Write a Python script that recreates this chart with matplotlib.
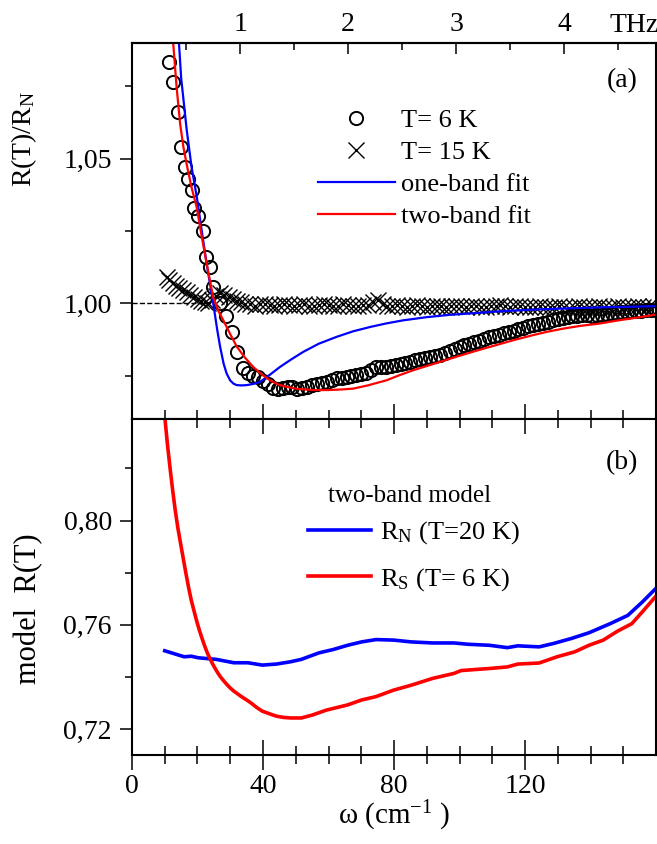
import numpy as np
import matplotlib
matplotlib.use('Agg')
import matplotlib.pyplot as plt
from matplotlib.lines import Line2D

plt.rcParams['font.family'] = 'Liberation Serif'
plt.rcParams['mathtext.fontset'] = 'custom'
plt.rcParams['mathtext.rm'] = 'Liberation Serif'
plt.rcParams['mathtext.it'] = 'Liberation Serif:italic'

# ---- panel (a): measured R(T)/R_N and fits ----
w_6K = [11.4, 12.6, 14.1, 15.0, 16.2, 17.2, 18.2, 19.0, 20.2, 21.8, 22.6, 23.8,
        24.8, 26.9, 28.7, 30.4, 32.0, 34.0, 35.5, 37.0, 38.5, 40.0, 41.5, 43.0,
        44.5, 46.0, 47.5, 49.0, 50.5, 52.0, 53.5, 55.0, 56.5, 58.0, 59.5, 61.0,
        62.5, 64.0, 65.5, 67.0, 68.5, 70.0, 71.5, 73.0, 74.5, 76.0, 77.5, 79.0,
        80.5, 82.0, 83.5, 85.0, 86.5, 88.0, 89.5, 91.0, 92.5, 94.0, 95.5, 97.0,
        98.5, 100.0, 101.5, 103.0, 104.5, 106.0, 107.5, 109.0, 110.5, 112.0,
        113.5, 115.0, 116.5, 118.0, 119.5, 121.0, 122.5, 124.0, 125.5, 127.0,
        128.5, 130.0, 131.5, 133.0, 134.5, 136.0, 137.5, 139.0, 140.5, 142.0,
        143.5, 145.0, 146.5, 148.0, 149.5, 151.0, 152.5, 154.0, 155.5, 157.0,
        158.5, 160.0]
r_6K = [1.0834, 1.0764, 1.0660, 1.0540, 1.0470, 1.0430, 1.0390, 1.0330, 1.0300,
        1.0250, 1.0160, 1.0125, 1.0056, 1.0000, 0.9955, 0.9900, 0.9832, 0.9775,
        0.9758, 0.9750, 0.9744, 0.9730, 0.9722, 0.9708, 0.9702, 0.9708, 0.9712,
        0.9709, 0.9705, 0.9707, 0.9712, 0.9716, 0.9720, 0.9726, 0.9729, 0.9734,
        0.9740, 0.9742, 0.9746, 0.9749, 0.9752, 0.9754, 0.9760, 0.9770, 0.9778,
        0.9780, 0.9781, 0.9783, 0.9786, 0.9790, 0.9792, 0.9797, 0.9805, 0.9808,
        0.9811, 0.9814, 0.9818, 0.9822, 0.9829, 0.9835, 0.9841, 0.9848, 0.9855,
        0.9860, 0.9866, 0.9870, 0.9876, 0.9882, 0.9887, 0.9892, 0.9896, 0.9900,
        0.9904, 0.9910, 0.9915, 0.9920, 0.9924, 0.9928, 0.9931, 0.9936, 0.9941,
        0.9945, 0.9950, 0.9953, 0.9955, 0.9957, 0.9958, 0.9959, 0.9957, 0.9958,
        0.9960, 0.9963, 0.9966, 0.9968, 0.9969, 0.9970, 0.9972, 0.9973, 0.9974,
        0.9975, 0.9976, 0.9977]

w_15K = [10.6, 11.4, 12.4, 13.5, 14.5, 15.5, 16.7, 17.8, 19.0, 20.2, 21.2, 22.2,
         23.3, 24.3, 25.5, 26.9, 28.2, 29.5, 30.8, 32.0, 33.3, 34.5, 36.0, 37.5,
         39.0, 40.5, 42.0, 43.5, 45.0, 46.5, 48.0, 49.5, 51.0, 52.5, 54.0, 55.5,
         57.0, 58.5, 60.0, 61.5, 63.0, 64.5, 66.0, 67.5, 69.0, 70.5, 72.0, 73.5,
         75.0, 76.5, 78.0, 79.5, 81.0, 82.5, 84.0, 85.5, 87.0, 88.5, 90.0, 91.5,
         93.0, 94.5, 96.0, 97.5, 99.0, 100.5, 102.0, 103.5, 105.0, 106.5, 108.0,
         109.5, 111.0, 112.5, 114.0, 115.5, 117.0, 118.5, 120.0, 121.5, 123.0,
         124.5, 126.0, 127.5, 129.0, 130.5, 132.0, 133.5, 135.0, 136.5, 138.0,
         139.5, 141.0, 142.5, 144.0, 145.5, 147.0, 148.5, 150.0, 151.5, 153.0,
         154.5, 156.0, 157.5, 159.0]
r_15K = [1.0091, 1.0082, 1.0070, 1.0060, 1.0052, 1.0045, 1.0039, 1.0030, 1.0022,
         1.0015, 1.0008, 1.0004, 1.0000, 1.0010, 1.0025, 1.0034, 1.0028, 1.0022,
         1.0015, 1.0008, 1.0004, 0.9998, 0.9996, 0.9992, 0.9996, 0.9999, 0.9994,
         0.9990, 0.9993, 0.9997, 0.9995, 0.9991, 0.9994, 0.9996, 0.9992, 0.9990,
         0.9994, 0.9997, 0.9993, 0.9990, 0.9992, 0.9996, 0.9994, 0.9991, 0.9989,
         0.9993, 0.9995, 1.0004, 1.0012, 0.9998, 0.9992, 0.9990, 0.9993, 0.9991,
         0.9988, 0.9990, 0.9993, 0.9991, 0.9988, 0.9990, 0.9992, 0.9989, 0.9987,
         0.9990, 0.9992, 0.9989, 0.9987, 0.9989, 0.9991, 0.9988, 0.9986, 0.9989,
         0.9991, 0.9993, 0.9989, 0.9987, 0.9989, 0.9991, 0.9988, 0.9986, 0.9988,
         0.9990, 0.9988, 0.9986, 0.9988, 0.9990, 0.9987, 0.9985, 0.9988, 0.9990,
         0.9987, 0.9986, 0.9988, 0.9990, 0.9987, 0.9985, 0.9988, 0.9990, 0.9988,
         0.9986, 0.9988, 0.9990, 0.9988, 0.9987, 0.9989]

w_one = [13.8, 15.0, 16.7, 18.2, 19.8, 21.3, 22.8, 24.8, 26.0, 26.9, 28.0, 28.9,
         30.0, 31.0, 32.0, 33.5, 35.0, 37.0, 39.1, 42.0, 45.2, 48.5, 52.3, 57.0,
         62.5, 67.5, 72.7, 77.5, 82.8, 90.0, 97.0, 102.2, 112.0, 122.5, 132.0,
         142.9, 152.0, 160.0]
r_one = [1.1000, 1.0780, 1.0600, 1.0470, 1.0367, 1.0250, 1.0137, 1.0000, 0.9910,
         0.9850, 0.9790, 0.9757, 0.9733, 0.9722, 0.9717, 0.9716, 0.9717, 0.9721,
         0.9728, 0.9752, 0.9780, 0.9805, 0.9832, 0.9860, 0.9884, 0.9903, 0.9918,
         0.9930, 0.9941, 0.9952, 0.9960, 0.9964, 0.9972, 0.9978, 0.9982, 0.9986,
         0.9988, 0.9990]

w_two = [12.3, 12.6, 13.6, 14.7, 15.7, 16.7, 18.2, 19.8, 21.3, 22.8, 24.8, 26.3,
         27.9, 30.0, 32.0, 34.5, 37.0, 39.5, 42.1, 44.5, 47.2, 50.5, 55.4, 60.0,
         64.0, 67.6, 72.0, 77.8, 81.8, 86.0, 92.0, 97.0, 102.2, 107.0, 112.0,
         117.0, 122.5, 127.0, 132.0, 137.0, 142.9, 148.0, 154.0, 160.0]
r_two = [1.1000, 1.0897, 1.0750, 1.0620, 1.0540, 1.0480, 1.0400, 1.0330, 1.0230,
         1.0137, 1.0020, 0.9975, 0.9941, 0.9893, 0.9850, 0.9812, 0.9780, 0.9755,
         0.9734, 0.9720, 0.9711, 0.9704, 0.9700, 0.9700, 0.9702, 0.9705, 0.9716,
         0.9734, 0.9752, 0.9769, 0.9790, 0.9808, 0.9826, 0.9842, 0.9858, 0.9874,
         0.9890, 0.9902, 0.9913, 0.9922, 0.9930, 0.9940, 0.9950, 0.9961]

# ---- panel (b): two-band model reflectivity ----
w_RN = [10.0, 15.9, 18.1, 20.3, 25.7, 31.1, 35.4, 39.8, 44.1, 48.5, 51.7, 57.1,
        61.5, 65.8, 70.1, 74.5, 79.9, 85.3, 91.8, 98.3, 102.6, 109.2, 114.6,
        117.8, 124.3, 128.7, 134.1, 139.5, 146.0, 151.4, 155.8, 160.0]
R_N = [0.7500, 0.7477, 0.7479, 0.7473, 0.7467, 0.7454, 0.7454, 0.7445, 0.7449,
       0.7458, 0.7467, 0.7492, 0.7505, 0.7521, 0.7534, 0.7543, 0.7541, 0.7534,
       0.7530, 0.7530, 0.7525, 0.7521, 0.7512, 0.7519, 0.7515, 0.7528, 0.7547,
       0.7569, 0.7604, 0.7636, 0.7687, 0.7740]

w_RS = [10.0, 10.8, 11.6, 12.4, 13.2, 14.0, 14.85, 15.7, 16.5, 17.3, 18.1, 19.0,
        19.8, 20.6, 21.4, 22.2, 23.0, 23.8, 24.6, 25.4, 26.2, 27.0, 27.9, 29.0,
        30.0, 31.1, 32.2, 33.3, 34.4, 35.5, 36.5, 38.0, 39.8, 42.0, 44.1, 46.3,
        48.5, 51.7, 55.0, 59.3, 65.8, 70.1, 74.5, 79.9, 85.3, 91.8, 98.3, 100.5,
        104.8, 109.2, 114.6, 117.8, 124.3, 129.8, 135.2, 139.5, 143.9, 148.2,
        152.6, 155.8, 160.0]
R_S = [0.8400, 0.8295, 0.8204, 0.8118, 0.8040, 0.7972, 0.7911, 0.7851, 0.7795,
       0.7742, 0.7694, 0.7650, 0.7612, 0.7578, 0.7547, 0.7518, 0.7492, 0.7470,
       0.7450, 0.7432, 0.7415, 0.7400, 0.7386, 0.7370, 0.7357, 0.7345, 0.7335,
       0.7325, 0.7316, 0.7307, 0.7298, 0.7283, 0.7268, 0.7258, 0.7249, 0.7244,
       0.7242, 0.7242, 0.7253, 0.7272, 0.7292, 0.7311, 0.7324, 0.7349, 0.7368,
       0.7394, 0.7413, 0.7424, 0.7428, 0.7432, 0.7438, 0.7449, 0.7453, 0.7477,
       0.7496, 0.7521, 0.7541, 0.7575, 0.7604, 0.7649, 0.7710]

yt_a = [1.00, 1.05]
yt_a_lab = ['1,00', '1,05']
yt_b = [0.72, 0.76, 0.80]
yt_b_lab = ['0,72', '0,76', '0,80']
CM_PER_THZ = 33.0

fig = plt.figure(figsize=(6.57, 8.44), dpi=100)
ax1 = fig.add_axes([0.2009, 0.5036, 0.7976, 0.4455])
ax2 = fig.add_axes([0.2009, 0.1055, 0.7976, 0.3981])

for ax in (ax1, ax2):
    for s in ax.spines.values():
        s.set_linewidth(1.5)
    ax.set_xlim(0, 160)
    ax.tick_params(axis='y', which='major', direction='out', length=8.5, width=1.1,
                   labelsize=20, pad=6, right=False)
    ax.tick_params(axis='y', which='minor', direction='out', length=5, width=1.1, right=False)

# panel (a)
ax1.hlines(1.0, 0, 25, colors='k', linestyles='--', lw=1.0)
ax1.plot(w_15K, r_15K, ls='none', marker='x', ms=11, mew=1.0, color='k')
ax1.plot(w_6K, r_6K, ls='none', marker='o', ms=9.5, mew=1.4, mfc='none', mec='k')
ax1.plot(w_one, r_one, color='#0000ff', lw=1.6)
ax1.plot(w_two, r_two, color='#ff0000', lw=1.6)
ax1.set_ylim(0.96, 1.09)
ax1.set_yticks(yt_a, yt_a_lab)
ax1.set_yticks([0.975, 1.025, 1.075], minor=True)
ax1.set_xticks([])
ax1.tick_params(axis='x', which='both', bottom=False, top=False, labelbottom=False)
ax1.set_ylabel(r'R(T)/R$_\mathrm{N}$', fontsize=20)
ax1.yaxis.set_label_coords(-0.178, 0.745)
ax1.text(0.965, 0.9, '(a)', transform=ax1.transAxes, fontsize=20, ha='right', va='center')

thz = ax1.secondary_xaxis('top', functions=(lambda w: w / CM_PER_THZ,
                                           lambda f: f * CM_PER_THZ))
thz.set_xticks([1, 2, 3, 4])
thz.set_xticks([0.5, 1.5, 2.5, 3.5, 4.5], minor=True)
thz.tick_params(which='major', direction='in', length=8, width=1.1, labelsize=20, pad=4)
thz.tick_params(which='minor', direction='in', length=5, width=1.1)
thz.spines['top'].set_linewidth(1.5)
fig.text(0.965, 0.97, 'THz', fontsize=20, ha='center', va='center')

h_a = [Line2D([], [], ls='none', marker='o', ms=9.5, mew=1.4, mfc='none', mec='k'),
       Line2D([], [], ls='none', marker='x', ms=11, mew=1.0, color='k'),
       Line2D([], [], color='#0000ff', lw=1.6),
       Line2D([], [], color='#ff0000', lw=1.6)]
ax1.legend(h_a, ['T= 6 K', 'T= 15 K', 'one-band fit', 'two-band fit'],
           loc='upper left', bbox_to_anchor=(0.33, 0.86), frameon=False, fontsize=19,
           handlelength=2.9, handletextpad=0.25, labelspacing=0.32, borderpad=0)

# panel (b)
ax2.plot(w_RN, R_N, color='#0000ff', lw=2.6)
ax2.plot(w_RS, R_S, color='#ff0000', lw=2.6)
ax2.set_ylim(0.710, 0.839)
ax2.set_yticks(yt_b, yt_b_lab)
ax2.set_yticks([0.74, 0.78, 0.82], minor=True)
ax2.set_xticks([0, 40, 80, 120])
ax2.set_xticks(np.arange(10, 160, 10), minor=True)
ax2.tick_params(axis='x', which='major', direction='inout', length=21, width=1.1,
                top=True, labelsize=20, pad=3)
ax2.tick_params(axis='x', which='minor', direction='inout', length=12.5, width=1.1, top=True)
ax2.set_ylabel('model  R(T)', fontsize=22)
ax2.yaxis.set_label_coords(-0.17, 0.435)
ax2.set_xlabel(r'ω (cm$^{\mathrm{-1}}$ )', fontsize=21, labelpad=0)
ax2.text(0.965, 0.87, '(b)', transform=ax2.transAxes, fontsize=20, ha='right', va='center')
ax2.text(0.53, 0.771, 'two-band model', transform=ax2.transAxes, fontsize=18,
         ha='center', va='center')
h_b = [Line2D([], [], color='#0000ff', lw=2.6), Line2D([], [], color='#ff0000', lw=2.6)]
ax2.legend(h_b, [r'R$_\mathrm{N}$ (T=20 K)', r'R$_\mathrm{S}$ (T= 6 K)'],
           loc='upper left', bbox_to_anchor=(0.31, 0.74), frameon=False, fontsize=19,
           handlelength=2.4, handletextpad=0.35, labelspacing=0.75, borderpad=0)

fig.savefig('out.png', dpi=100)
